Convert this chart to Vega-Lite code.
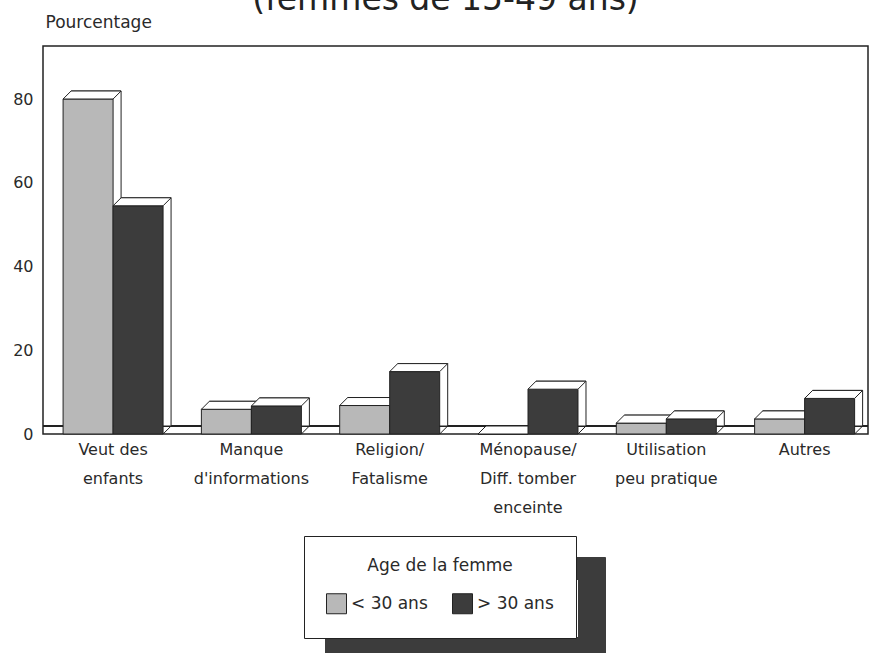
{
  "$schema": "https://vega.github.io/schema/vega-lite/v6.json",
  "autosize": {"type": "none"},
  "width": 825,
  "height": 388,
  "padding": {"left": 43, "top": 46, "right": 5, "bottom": 219},
  "background": "white",
  "title": {
    "text": "(femmes de 15-49 ans)",
    "font": "DejaVu Sans",
    "fontSize": 33,
    "fontWeight": "normal",
    "color": "#222",
    "anchor": "middle",
    "baseline": "alphabetic",
    "offset": 4,
    "dy": 34,
    "dx": -10
  },
  "config": {
    "view": {"stroke": "#222", "strokeWidth": 1.5},
    "font": "DejaVu Sans"
  },
  "data": {
    "values": [
      {"reason": "Veut des enfants", "age": "< 30 ans", "pct": 80},
      {"reason": "Veut des enfants", "age": "> 30 ans", "pct": 54.5},
      {"reason": "Manque d'informations", "age": "< 30 ans", "pct": 5.9},
      {"reason": "Manque d'informations", "age": "> 30 ans", "pct": 6.7},
      {"reason": "Religion/ Fatalisme", "age": "< 30 ans", "pct": 6.8},
      {"reason": "Religion/ Fatalisme", "age": "> 30 ans", "pct": 14.9},
      {"reason": "Ménopause/ Diff. tomber enceinte", "age": "< 30 ans", "pct": 0},
      {"reason": "Ménopause/ Diff. tomber enceinte", "age": "> 30 ans", "pct": 10.7},
      {"reason": "Utilisation peu pratique", "age": "< 30 ans", "pct": 2.6},
      {"reason": "Utilisation peu pratique", "age": "> 30 ans", "pct": 3.6},
      {"reason": "Autres", "age": "< 30 ans", "pct": 3.6},
      {"reason": "Autres", "age": "> 30 ans", "pct": 8.5}
    ]
  },
  "encoding": {
    "xOffset": {
      "field": "age",
      "type": "nominal",
      "scale": {"domain": ["< 30 ans", "> 30 ans"], "paddingInner": 0, "paddingOuter": 0}
    },
    "y": {
      "field": "pct",
      "type": "quantitative",
      "scale": {"domain": [0, 92.66], "nice": false},
      "axis": {
        "values": [0, 20, 40, 60, 80],
        "domain": false,
        "ticks": false,
        "grid": false,
        "labelFont": "DejaVu Sans",
        "labelFontSize": 16,
        "labelColor": "#2a2a2a",
        "labelPadding": 10,
        "title": "Pourcentage",
        "titleFont": "DejaVu Sans",
        "titleFontSize": 17,
        "titleFontWeight": "normal",
        "titleColor": "#2a2a2a",
        "titleAngle": 0,
        "titleAlign": "left",
        "titleBaseline": "middle",
        "titleX": 2,
        "titleY": -24
      }
    }
  },
  "resolve": {"scale": {"x": "independent"}},
  "layer": [
    {
      "mark": {"type": "rule", "yOffset": -8, "color": "#222", "strokeWidth": 1},
      "encoding": {"x": null, "xOffset": null, "y": {"datum": 0, "type": "quantitative"}}
    },
    {
      "mark": {
        "type": "point",
        "shape": "M-1,0L-0.68,-0.32L1.32,-0.32L1,0",
        "size": 2500,
        "filled": false,
        "stroke": "#222",
        "strokeWidth": 1,
        "opacity": 1
      },
      "encoding": {
        "x": {
          "field": "reason",
          "type": "nominal",
          "sort": null,
          "scale": {"paddingInner": 0.277, "paddingOuter": 0.121, "align": 0.6},
          "axis": {
            "title": null,
            "domain": false,
            "ticks": false,
            "labelAngle": 0,
            "labelFont": "DejaVu Sans",
            "labelFontSize": 16,
            "labelColor": "#2a2a2a",
            "labelPadding": 7,
            "labelLineHeight": 29,
            "labelBaseline": "top",
            "labelOverlap": false,
            "labelLimit": 0,
            "labelExpr": "datum.value == 'Veut des enfants' ? ['Veut des', 'enfants'] : datum.value == \"Manque d'informations\" ? ['Manque', \"d'informations\"] : datum.value == 'Religion/ Fatalisme' ? ['Religion/', 'Fatalisme'] : datum.value == 'Ménopause/ Diff. tomber enceinte' ? ['Ménopause/', 'Diff. tomber', 'enceinte'] : datum.value == 'Utilisation peu pratique' ? ['Utilisation', 'peu pratique'] : datum.value"
          }
        },
        "y": {"datum": 0, "type": "quantitative"}
      }
    },
    {
      "transform": [{"filter": "datum.age == '< 30 ans'"}],
      "mark": {"type": "bar", "yOffset": -8, "y2Offset": -8, "fill": "white", "stroke": "#222", "strokeWidth": 1},
      "encoding": {
        "x": {
          "field": "reason",
          "type": "nominal",
          "sort": null,
          "scale": {"paddingInner": 0.277, "paddingOuter": 0.121, "align": 0.6, "range": [8, 833]},
          "axis": null
        }
      }
    },
    {
      "transform": [{"filter": "datum.age == '< 30 ans'"}],
      "encoding": {
        "x": {
          "field": "reason",
          "type": "nominal",
          "sort": null,
          "scale": {"paddingInner": 0.277, "paddingOuter": 0.121, "align": 0.6},
          "axis": null
        }
      },
      "layer": [
        {
          "mark": {"type": "bar", "stroke": "#222", "strokeWidth": 1},
          "encoding": {
            "fill": {
              "field": "age",
              "type": "nominal",
              "scale": {"domain": ["< 30 ans", "> 30 ans"], "range": ["#b8b8b8", "#3c3c3c"]},
              "legend": {
                "title": "Age de la femme",
                "orient": "none",
                "direction": "horizontal",
                "legendX": 261,
                "legendY": 490,
                "zindex": 2,
                "fillColor": "white",
                "strokeColor": "#222",
                "padding": 22,
                "titleAnchor": "middle",
                "titleFont": "DejaVu Sans",
                "titleFontSize": 17,
                "titleFontWeight": "normal",
                "titleColor": "#2a2a2a",
                "titlePadding": 18,
                "labelFont": "DejaVu Sans",
                "labelFontSize": 17,
                "labelColor": "#2a2a2a",
                "labelOffset": 4,
                "columnPadding": 22,
                "symbolType": "square",
                "symbolSize": 400,
                "symbolStrokeColor": "#222",
                "symbolStrokeWidth": 1
              }
            }
          }
        },
        {
          "mark": {
            "type": "point",
            "shape": "M-1,0L-0.68,-0.32L1.32,-0.32L1,0Z",
            "size": 2500,
            "filled": true,
            "fill": "white",
            "stroke": "#222",
            "strokeWidth": 1
          },
          "encoding": {
            "opacity": {
              "field": "age",
              "type": "nominal",
              "scale": {"range": [1, 1]},
              "legend": {
                "title": null,
                "orient": "none",
                "direction": "horizontal",
                "legendX": 282,
                "legendY": 511,
                "zindex": 1,
                "fillColor": "#3c3c3c",
                "strokeColor": "#3c3c3c",
                "padding": 22,
                "labelFontSize": 17,
                "labelOffset": 4,
                "labelExpr": "''",
                "columnPadding": 108,
                "symbolType": "square",
                "symbolSize": 3249,
                "symbolFillColor": "#3c3c3c",
                "symbolStrokeColor": "#3c3c3c"
              }
            }
          }
        }
      ]
    },
    {
      "transform": [{"filter": "datum.age == '> 30 ans'"}],
      "mark": {"type": "bar", "yOffset": -8, "y2Offset": -8, "fill": "white", "stroke": "#222", "strokeWidth": 1},
      "encoding": {
        "x": {
          "field": "reason",
          "type": "nominal",
          "sort": null,
          "scale": {"paddingInner": 0.277, "paddingOuter": 0.121, "align": 0.6, "range": [8, 833]},
          "axis": null
        }
      }
    },
    {
      "transform": [{"filter": "datum.age == '> 30 ans'"}],
      "encoding": {
        "x": {
          "field": "reason",
          "type": "nominal",
          "sort": null,
          "scale": {"paddingInner": 0.277, "paddingOuter": 0.121, "align": 0.6},
          "axis": null
        }
      },
      "layer": [
        {
          "mark": {"type": "bar", "stroke": "#222", "strokeWidth": 1},
          "encoding": {
            "fill": {"field": "age", "type": "nominal"}
          }
        },
        {
          "mark": {
            "type": "point",
            "shape": "M-1,0L-0.68,-0.32L1.32,-0.32L1,0Z",
            "size": 2500,
            "filled": true,
            "fill": "white",
            "stroke": "#222",
            "strokeWidth": 1
          },
          "encoding": {
            "opacity": {"field": "age", "type": "nominal"}
          }
        }
      ]
    }
  ]
}
